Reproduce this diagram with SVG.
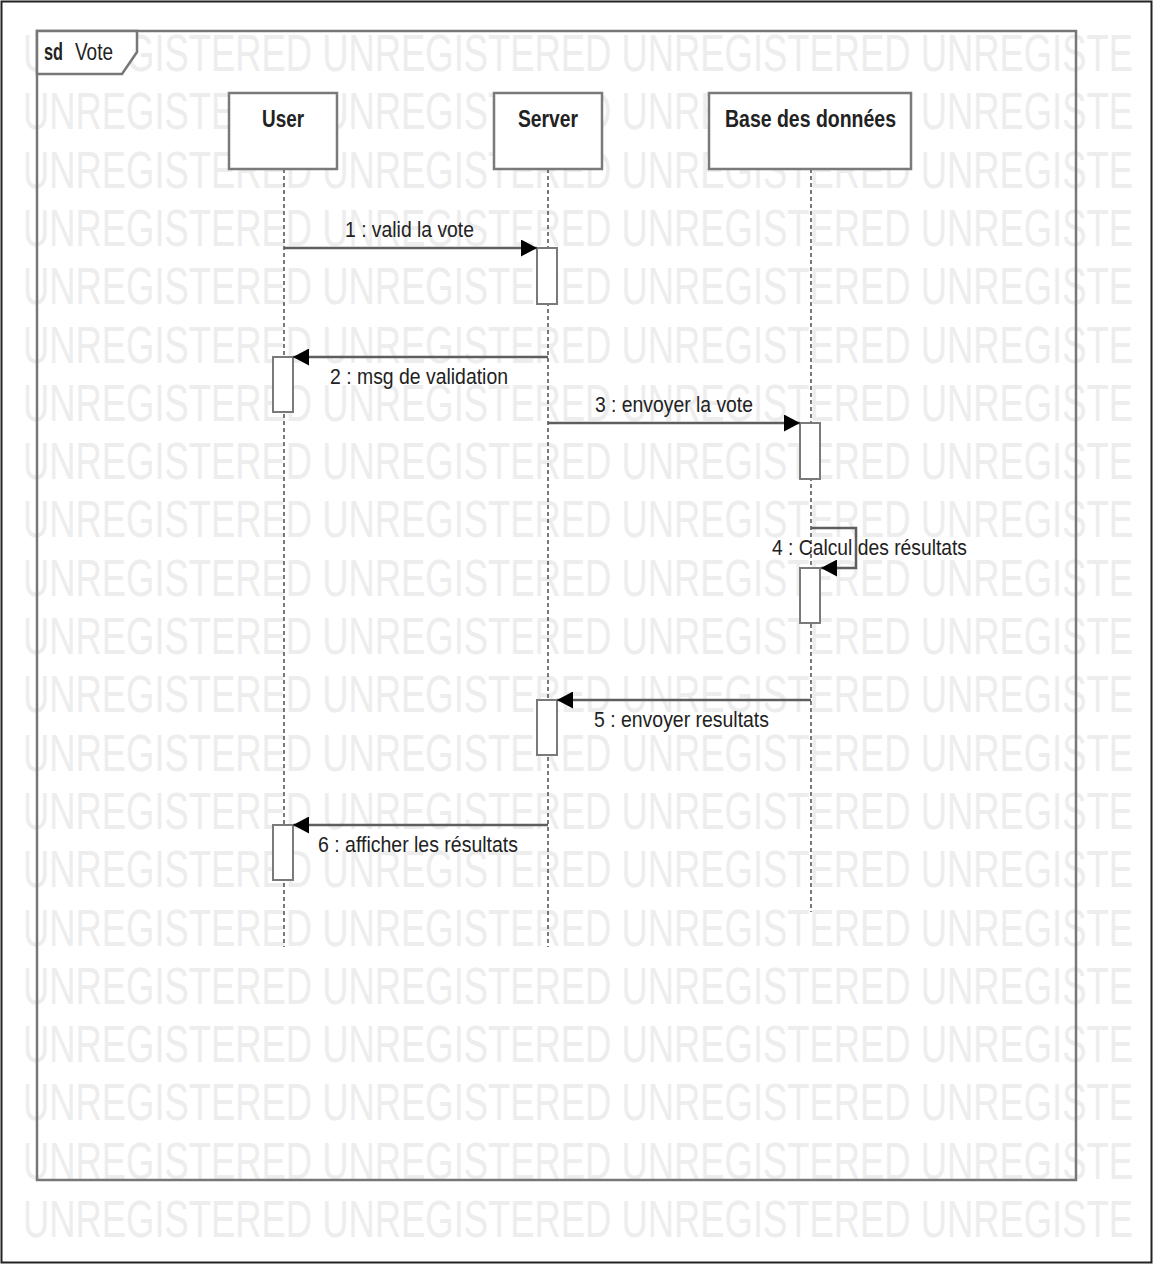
<svg xmlns="http://www.w3.org/2000/svg" xmlns:xlink="http://www.w3.org/1999/xlink" width="1153" height="1264" viewBox="0 0 1153 1264">
<style>
.wm{font-family:"Liberation Sans",Arial,sans-serif;font-size:52px;fill:#ededed}
.name{font-family:"Liberation Sans",Arial,sans-serif;font-size:23px;font-weight:bold;fill:#222}
.lbl{font-family:"Liberation Sans",Arial,sans-serif;font-size:22px;fill:#222}
.box{fill:#fff;stroke:#7a7a7a;stroke-width:2.5}
.act{fill:#fff;stroke:#7a7a7a;stroke-width:2}
.life{stroke:#333;stroke-width:1.3;stroke-dasharray:4 3;fill:none}
.msg{stroke:#5e5e5e;stroke-width:2.5;fill:none}
</style>
<defs>
<marker id="ah" markerUnits="userSpaceOnUse" markerWidth="17" markerHeight="17" refX="16" refY="8.5" orient="auto">
<path d="M0,0 L16,8.5 L0,17 z" fill="#000"/>
</marker>
<text id="wmrow" class="wm" x="23" y="0" textLength="1110" lengthAdjust="spacingAndGlyphs">UNREGISTERED UNREGISTERED UNREGISTERED UNREGISTE</text>
</defs>
<rect x="0" y="0" width="1153" height="1264" fill="#fff"/>
<rect x="1.5" y="1.5" width="1150" height="1261" fill="none" stroke="#222" stroke-width="2"/>
<g id="watermark">
<use xlink:href="#wmrow" y="71"/>
<use xlink:href="#wmrow" y="129.3"/>
<use xlink:href="#wmrow" y="187.6"/>
<use xlink:href="#wmrow" y="245.9"/>
<use xlink:href="#wmrow" y="304.2"/>
<use xlink:href="#wmrow" y="362.5"/>
<use xlink:href="#wmrow" y="420.8"/>
<use xlink:href="#wmrow" y="479.1"/>
<use xlink:href="#wmrow" y="537.4"/>
<use xlink:href="#wmrow" y="595.7"/>
<use xlink:href="#wmrow" y="654"/>
<use xlink:href="#wmrow" y="712.3"/>
<use xlink:href="#wmrow" y="770.6"/>
<use xlink:href="#wmrow" y="828.9"/>
<use xlink:href="#wmrow" y="887.2"/>
<use xlink:href="#wmrow" y="945.5"/>
<use xlink:href="#wmrow" y="1003.8"/>
<use xlink:href="#wmrow" y="1062.1"/>
<use xlink:href="#wmrow" y="1120.4"/>
<use xlink:href="#wmrow" y="1178.7"/>
<use xlink:href="#wmrow" y="1237"/>
</g>
<g id="frame">
<rect x="37" y="31" width="1039" height="1149" fill="none" stroke="#777" stroke-width="2.5"/>
<path d="M37,31 L137,31 L137,52 L122,74 L37,74 z" fill="#fff" stroke="#777" stroke-width="2.5"/>
<text class="name" x="44" y="60" textLength="19" lengthAdjust="spacingAndGlyphs">sd</text>
<text class="lbl" x="75" y="60" textLength="38" lengthAdjust="spacingAndGlyphs" style="font-size:23px">Vote</text>
</g>
<g id="lifelines">
<line class="life" x1="284" y1="169" x2="284" y2="947"/>
<line class="life" x1="548" y1="169" x2="548" y2="947"/>
<line class="life" x1="811" y1="169" x2="811" y2="912"/>
</g>
<g id="node-user">
<rect class="box" x="229" y="93" width="108" height="76"/>
<text class="name" x="262" y="127" textLength="42" lengthAdjust="spacingAndGlyphs">User</text>
</g>
<g id="node-server">
<rect class="box" x="494" y="93" width="108" height="76"/>
<text class="name" x="518" y="127" textLength="60" lengthAdjust="spacingAndGlyphs">Server</text>
</g>
<g id="node-db">
<rect class="box" x="709" y="93" width="202" height="76"/>
<text class="name" x="725" y="127" textLength="171" lengthAdjust="spacingAndGlyphs">Base des données</text>
</g>
<g id="activations">
<rect class="act" x="537" y="248" width="20" height="56"/>
<rect class="act" x="273" y="357" width="20" height="55"/>
<rect class="act" x="800" y="423" width="20" height="56"/>
<rect class="act" x="800" y="568" width="20" height="55"/>
<rect class="act" x="537" y="700" width="20" height="55"/>
<rect class="act" x="273" y="825" width="20" height="55"/>
</g>
<g id="connectors">
<line class="msg" x1="284" y1="248" x2="537" y2="248" marker-end="url(#ah)"/>
<line class="msg" x1="548" y1="357" x2="293" y2="357" marker-end="url(#ah)"/>
<line class="msg" x1="548" y1="423" x2="800" y2="423" marker-end="url(#ah)"/>
<polyline class="msg" points="811,528 856,528 856,568 821,568" marker-end="url(#ah)"/>
<line class="msg" x1="811" y1="700" x2="557" y2="700" marker-end="url(#ah)"/>
<line class="msg" x1="548" y1="825" x2="293" y2="825" marker-end="url(#ah)"/>
</g>
<g id="labels">
<text class="lbl" x="345" y="237" textLength="129" lengthAdjust="spacingAndGlyphs">1 : valid la vote</text>
<text class="lbl" x="330" y="384" textLength="178" lengthAdjust="spacingAndGlyphs">2 : msg de validation</text>
<text class="lbl" x="595" y="412" textLength="158" lengthAdjust="spacingAndGlyphs">3 : envoyer la vote</text>
<text class="lbl" x="772" y="555" textLength="195" lengthAdjust="spacingAndGlyphs">4 : Calcul des résultats</text>
<text class="lbl" x="594" y="727" textLength="175" lengthAdjust="spacingAndGlyphs">5 : envoyer resultats</text>
<text class="lbl" x="318" y="852" textLength="200" lengthAdjust="spacingAndGlyphs">6 : afficher les résultats</text>
</g>
</svg>
